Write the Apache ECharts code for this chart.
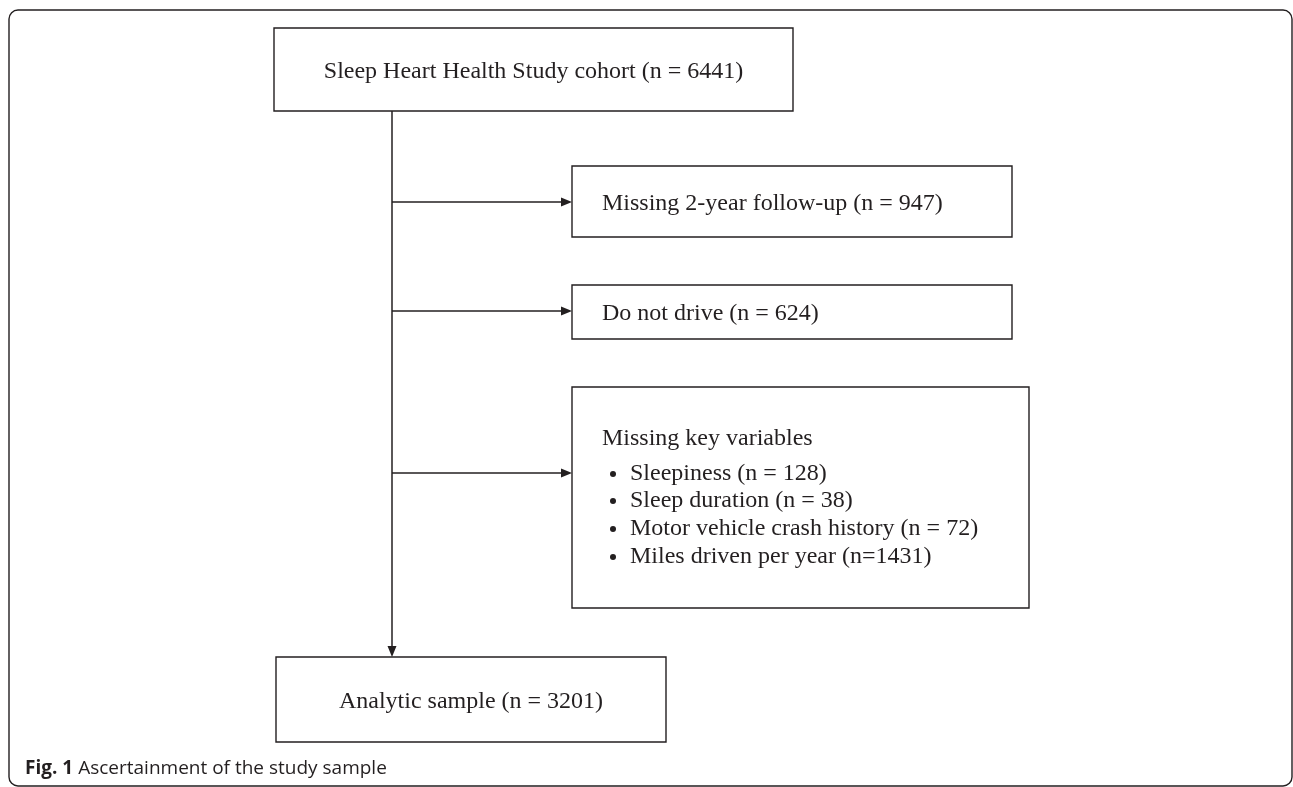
<!DOCTYPE html>
<html>
<head>
<meta charset="utf-8">
<script src="https://cdn.jsdelivr.net/npm/echarts@6/dist/echarts.min.js"></script>
<style>
html,body{margin:0;padding:0;background:#fff;}
#chart{width:1293px;height:787px;}
</style>
</head>
<body>
<div id="chart"></div>
<script>
// ---- Data ----
const cohortLabel = 'Sleep Heart Health Study cohort';
const cohortN = 6441;
const exclusionLabels = ['Missing 2-year follow-up', 'Do not drive', 'Missing key variables'];
const exclusionN = [947, 624, null];
const keyVarLabels = ['Sleepiness', 'Sleep duration', 'Motor vehicle crash history', 'Miles driven per year'];
const keyVarN = [128, 38, 72, 1431];
const keyVarSep = [' = ', ' = ', ' = ', '='];
const finalLabel = 'Analytic sample';
const finalN = 3201;
const captionBold = 'Fig. 1';
const captionText = 'Ascertainment of the study sample';

// ---- Layout (pixel-unit coordinate space of the hidden axes) ----
const W = 1293, H = 787;
const layout = {
  top:   {x0: 274, x1: 793, y0: 28, y1: 111},
  ex:   [{x0: 572, x1: 1012, y0: 166, y1: 237},
         {x0: 572, x1: 1012, y0: 285, y1: 339},
         {x0: 572, x1: 1029, y0: 387, y1: 608}],
  final: {x0: 276, x1: 666, y0: 657, y1: 742},
  spineX: 392,
  branchY: [202, 311, 473],
  textX: 602,
  textDy: 2,
  listTitleY: 437,
  listY: [472, 499, 527, 555],
  bulletX: 613,
  listTextX: 630
};
const ink = '#231f20';
const serif = '"Liberation Serif","Times New Roman",serif';

function fmtN(n, sep) { return '(n' + (sep || ' = ') + n + ')'; }

function renderItem(params, api) {
  const c = (x, y) => api.coord([x, y]);
  const children = [];
  const rectEl = (b) => {
    const p0 = c(b.x0, b.y0), p1 = c(b.x1, b.y1);
    return {type: 'rect', shape: {x: p0[0], y: p0[1], width: p1[0] - p0[0], height: p1[1] - p0[1]},
      style: {fill: '#fff', stroke: ink, lineWidth: 1.4}};
  };
  const lineEl = (xa, ya, xb, yb) => {
    const a = c(xa, ya), b = c(xb, yb);
    return {type: 'line', shape: {x1: a[0], y1: a[1], x2: b[0], y2: b[1]}, style: {stroke: ink, lineWidth: 1.5}};
  };
  const arrowRight = (x, y) => {
    const t = c(x, y);
    return {type: 'polygon', shape: {points: [[t[0], t[1]], [t[0] - 11, t[1] - 4.5], [t[0] - 11, t[1] + 4.5]]}, style: {fill: ink}};
  };
  const arrowDown = (x, y) => {
    const t = c(x, y);
    return {type: 'polygon', shape: {points: [[t[0], t[1]], [t[0] - 4.5, t[1] - 11], [t[0] + 4.5, t[1] - 11]]}, style: {fill: ink}};
  };
  const textEl = (str, x, y, align) => {
    const p = c(x, y + layout.textDy);
    return {type: 'text', style: {text: str, x: p[0], y: p[1], fill: ink, fontSize: 24,
      fontFamily: serif, align: align || 'left', verticalAlign: 'middle'}};
  };

  // spine
  children.push(lineEl(layout.spineX, layout.top.y1, layout.spineX, layout.final.y0 - 8));
  children.push(arrowDown(layout.spineX, layout.final.y0));
  // branches
  layout.branchY.forEach((y, i) => {
    children.push(lineEl(layout.spineX, y, layout.ex[i].x0 - 8, y));
    children.push(arrowRight(layout.ex[i].x0, y));
  });
  // boxes
  children.push(rectEl(layout.top));
  layout.ex.forEach(b => children.push(rectEl(b)));
  children.push(rectEl(layout.final));
  // texts
  children.push(textEl(cohortLabel + ' ' + fmtN(cohortN), (layout.top.x0 + layout.top.x1) / 2, (layout.top.y0 + layout.top.y1) / 2, 'center'));
  for (let i = 0; i < 2; i++) {
    const b = layout.ex[i];
    children.push(textEl(exclusionLabels[i] + ' ' + fmtN(exclusionN[i]), layout.textX, (b.y0 + b.y1) / 2, 'left'));
  }
  children.push(textEl(exclusionLabels[2], layout.textX, layout.listTitleY, 'left'));
  keyVarLabels.forEach((lab, i) => {
    const p = c(layout.bulletX, layout.listY[i] + layout.textDy);
    children.push({type: 'circle', shape: {cx: p[0], cy: p[1], r: 3}, style: {fill: ink}});
    children.push(textEl(lab + ' ' + fmtN(keyVarN[i], keyVarSep[i]), layout.listTextX, layout.listY[i], 'left'));
  });
  children.push(textEl(finalLabel + ' ' + fmtN(finalN), (layout.final.x0 + layout.final.x1) / 2, (layout.final.y0 + layout.final.y1) / 2, 'center'));

  return {type: 'group', children: children};
}

const chart = echarts.init(document.getElementById('chart'), null, {renderer: 'canvas'});
chart.setOption({
  animation: false,
  backgroundColor: '#fff',
  grid: {left: 0, top: 0, width: W, height: H},
  xAxis: {type: 'value', min: 0, max: W, show: false},
  yAxis: {type: 'value', min: 0, max: H, inverse: true, show: false},
  title: {
    text: '{b|' + captionBold + '} {r|' + captionText + '}',
    left: 20, top: 754,
    textStyle: {
      fontWeight: 'normal',
      rich: {
        b: {fontFamily: '"Open Sans",sans-serif', fontWeight: 'bold', fontSize: 19, color: '#231f20'},
        r: {fontFamily: '"Open Sans",sans-serif', fontWeight: 'normal', fontSize: 19, color: '#231f20'}
      }
    }
  },
  graphic: [{
    type: 'rect', silent: true,
    shape: {x: 9, y: 10, width: 1283, height: 776, r: 9},
    style: {fill: 'none', stroke: '#231f20', lineWidth: 1.4}
  }],
  series: [{
    type: 'custom',
    renderItem: renderItem,
    data: [0],
    silent: true,
    clip: false
  }]
});
</script>
</body>
</html>
